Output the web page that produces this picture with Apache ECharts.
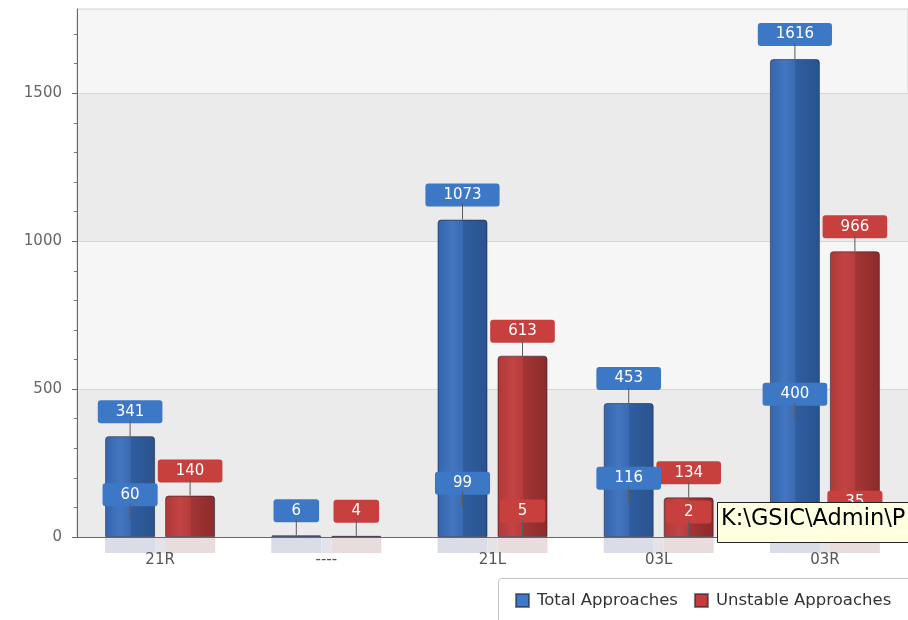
<!DOCTYPE html>
<html>
<head>
<meta charset="utf-8">
<script src="https://cdn.jsdelivr.net/npm/echarts@6/dist/echarts.min.js"></script>
<style>
html,body{margin:0;padding:0;background:#fff;}
#chart{width:908px;height:620px;}
</style>
</head>
<body>
<div id="chart"></div>
<script>
const categories = ['21R', '----', '21L', '03L', '03R'];
const totalApproaches = [341, 6, 1073, 453, 1616];
const unstableApproaches = [140, 4, 613, 134, 966];
const totalInner = [60, null, 99, 116, 400];
const unstableInner = [null, null, 5, 2, 35];
const yMajorTicks = [0, 500, 1000, 1500];
const seriesNames = ['Total Approaches', 'Unstable Approaches'];

const FONT = 'DejaVu Sans';
const blueGrad = {type:'linear', x:0, y:0, x2:1, y2:0, colorStops:[
  {offset:0, color:'#3465ad'}, {offset:0.3, color:'#4376c0'}, {offset:0.5, color:'#3a6bb2'},
  {offset:0.52, color:'#2f5d9e'}, {offset:1, color:'#29538f'}]};
const redGrad = {type:'linear', x:0, y:0, x2:1, y2:0, colorStops:[
  {offset:0, color:'#ae3938'}, {offset:0.3, color:'#c24443'}, {offset:0.5, color:'#b63d3c'},
  {offset:0.52, color:'#a33434'}, {offset:1, color:'#8c2b2b'}]};

function boxLabel(bg) {
  return {
    show: true, position: 'top', distance: 0,
    formatter: p => '{box|' + p.value + '}\n{line|}',
    rich: {
      box: {color:'#fff', backgroundColor:bg, borderRadius:3, padding:[4,18,4,18],
            fontSize:15, lineHeight:17, fontFamily:FONT},
      line: {width:1, height:16, backgroundColor:'#5a5a5a'}
    }
  };
}
function barSeries(name, data, fill, labelBg, xIdx, solid) {
  return {
    name: name, type: 'bar', xAxisIndex: xIdx, yAxisIndex: 0,
    data: data, barWidth: 50, barGap: '20%',
    itemStyle: solid
      ? {color: fill, borderColor: 'rgba(30,30,50,0.55)', borderWidth: 1, borderRadius: [3,3,0,0]}
      : {color: 'rgba(0,0,0,0)', borderWidth: 0},
    label: boxLabel(labelBg),
    emphasis: {disabled: true}
  };
}

const minorY = [];
for (let v = 100; v < 1785; v += 100) if (v % 500 !== 0) minorY.push(v);

const chart = echarts.init(document.getElementById('chart'), null, {renderer:'canvas'});
chart.setOption({
  animation: false,
  backgroundColor: '#ffffff',
  grid: {left: 77, top: 9, right: -9, bottom: 83, show: true, borderColor: '#d2d2d2', borderWidth: 1, backgroundColor: '#f6f6f6'},
  legend: {
    data: [
      {name: seriesNames[0], itemStyle: {color: '#3d79c9'}},
      {name: seriesNames[1], itemStyle: {color: '#c83b3b'}}
    ],
    left: 498, top: 578, orient: 'horizontal', z: 10,
    icon: 'rect', itemWidth: 13, itemHeight: 13, itemGap: 16,
    padding: [14, 0, 8, 17],
    textStyle: {fontFamily: FONT, fontSize: 16.5, color: '#333', padding: [0,0,0,3]}
  },
  xAxis: [
    {type: 'category', data: categories, position: 'bottom', z: 3,
     axisLine: {lineStyle: {color: '#666'}},
     axisTick: {alignWithLabel: true, length: 8, lineStyle: {color: '#666'}},
     axisLabel: {margin: 16, color: '#555', fontSize: 15, fontFamily: FONT},
     splitLine: {show: false}},
    {type: 'category', data: categories, position: 'bottom', z: 1,
     axisLine: {show: false}, axisTick: {show: false}, splitLine: {show: false},
     axisLabel: {margin: 1, formatter: () => '{a|}{g|}{b|}', verticalAlign: 'top',
       rich: {a: {width: 50, height: 15, backgroundColor: '#dadce7'},
              g: {width: 10, height: 15, backgroundColor: '#e4e3e8'},
              b: {width: 50, height: 15, backgroundColor: '#e9dcdc'}}}},
    {type: 'category', data: new Array(categories.length * 5).fill(''), position: 'bottom', z: 3,
     axisLine: {show: false}, axisLabel: {show: false}, splitLine: {show: false},
     axisTick: {alignWithLabel: true, interval: 0, length: 4, lineStyle: {color: '#777'}}}
  ],
  yAxis: [
    {type: 'value', min: 0, max: 1785, interval: 500, position: 'left',
     axisLine: {show: true, lineStyle: {color: '#666'}},
     axisTick: {show: true, length: 5, lineStyle: {color: '#666'}, customValues: yMajorTicks},
     axisLabel: {margin: 15, color: '#666', fontSize: 15, fontFamily: FONT, showMaxLabel: false,
                 formatter: v => String(v)},
     splitLine: {show: true, lineStyle: {color: '#d6d6d6'}},
     splitArea: {show: true, areaStyle: {color: ['#ebebeb', '#f6f6f6']}}},
    {type: 'value', min: 0, max: 1785, interval: 100, position: 'left',
     axisLine: {show: false}, axisLabel: {show: false}, splitLine: {show: false},
     axisTick: {show: true, length: 3, lineStyle: {color: '#777'}, customValues: minorY}}
  ],
  series: [
    barSeries(seriesNames[0], totalApproaches, blueGrad, '#3c78c6', 0, true),
    barSeries(seriesNames[1], unstableApproaches, redGrad, '#c8403e', 0, true),
    barSeries('Total inner', totalInner, null, '#3c78c6', 1, false),
    barSeries('Unstable inner', unstableInner, null, '#c8403e', 1, false)
  ],
  graphic: [
    {type: 'rect', left: 498, top: 578, z: 1,
     shape: {width: 430, height: 60, r: 3},
     style: {fill: '#fff', stroke: '#c4c4c4', lineWidth: 1}},
    {type: 'rect', left: 717, top: 502, z: 100,
     shape: {width: 220, height: 40},
     style: {fill: '#ffffe1', stroke: '#222', lineWidth: 1}},
    {type: 'text', left: 721, top: 508, z: 101,
     style: {text: 'K:\\GSIC\\Admin\\P', fill: '#000', font: '22.5px "DejaVu Sans"'}}
  ]
});
</script>
</body>
</html>
